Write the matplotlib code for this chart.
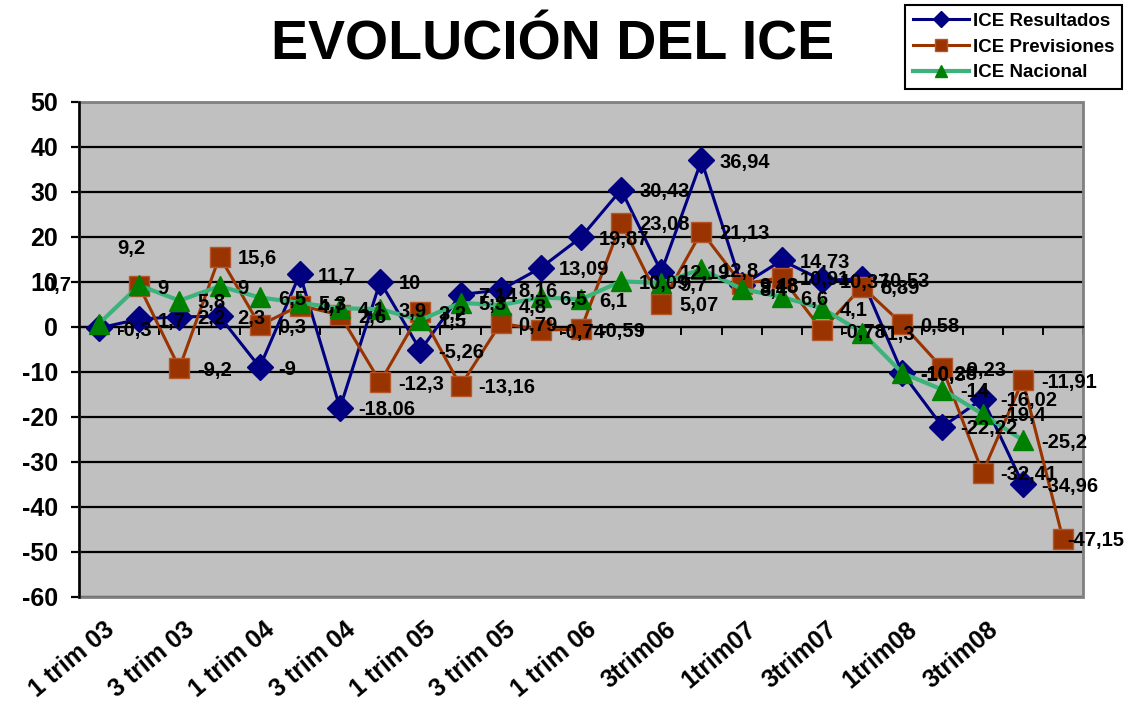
import numpy as np
import matplotlib
matplotlib.use('Agg')
import matplotlib.pyplot as plt
from matplotlib.patches import Rectangle
from matplotlib.lines import Line2D

nan = float('nan')

categories = ['1 trim 03', '2 trim 03', '3 trim 03', '4 trim 03',
              '1 trim 04', '2 trim 04', '3 trim 04', '4 trim 04',
              '1 trim 05', '2 trim 05', '3 trim 05', '4 trim 05',
              '1 trim 06', '2trim06', '3trim06', '4trim06',
              '1trim07', '2trim07', '3trim07', '4trim07',
              '1trim08', '2trim08', '3trim08', '4trim08', '']

resultados = [-0.3, 1.7, 2.2, 2.3, -9, 11.7, -18.06, 10, -5.26, 7.14,
              8.16, 13.09, 19.87, 30.43, 12.19, 36.94, 9.18, 14.73, 10.37,
              10.53, -10.28, -22.22, -16.02, -34.96, nan]

previsiones = [nan, 9, -9.2, 15.6, 0.3, 4.7, 2.6, -12.3, 3.2, -13.16,
               0.79, -0.74, -0.59, 23.08, 5.07, 21.13, 9.48, 10.91, -0.78,
               8.89, 0.58, -9.23, -32.41, -11.91, -47.15]

nacional = [0.7, 9.2, 5.8, 9, 6.5, 5.3, 4.1, 3.9, 1.5, 5.3,
            4.8, 6.5, 6.1, 10.09, 9.7, 12.8, 8.4, 6.6, 4.1, -1.3,
            -10.3, -14, -19.4, -25.2, nan]

series_names = ['ICE Resultados', 'ICE Previsiones', 'ICE Nacional']
y_ticks = [-60, -50, -40, -30, -20, -10, 0, 10, 20, 30, 40, 50]
title = 'EVOLUCIÓN DEL ICE'

plt.rcParams['font.family'] = ['Liberation Sans', 'DejaVu Sans']
plt.rcParams['font.weight'] = 'bold'
plt.rcParams['axes.unicode_minus'] = False

W, H = 1134, 710
fig = plt.figure(figsize=(W / 100, H / 100), dpi=100)
fig.patch.set_facecolor('white')
L, R, T, B = 79, 1083, 101.7, 596.7
ax = fig.add_axes([L / W, 1 - B / H, (R - L) / W, (B - T) / H])
ax.set_facecolor('#C0C0C0')

x = np.arange(len(categories))
ax.set_xlim(-0.5, len(categories) - 0.5)
ax.set_ylim(-60, 50)

styles = [
    dict(color='#000080', marker='D', ms=13, mfc='#000080', mec='#000080', lw=2.2),
    dict(color='#993300', marker='s', ms=14, mfc='#993300', mec='#B5562A', lw=2.2),
    dict(color='#3CB37A', marker='^', ms=15, mfc='#008000', mec='#008000', lw=3.0),
]
data = [resultados, previsiones, nacional]

for vals, st in zip(data, styles):
    ax.plot(x, vals, zorder=3, clip_on=False, **st)

# grid and axes
ax.set_yticks(y_ticks)
ax.yaxis.grid(True, color='black', lw=1.6)
ax.set_axisbelow(True)
ax.tick_params(axis='y', direction='out', length=6, width=1.6, pad=9,
               labelsize=18, colors='black')
for lab in ax.get_yticklabels():
    lab.set_fontweight('bold')

ax.spines['top'].set_visible(False)
ax.spines['right'].set_visible(False)
ax.spines['left'].set_color('black')
ax.spines['left'].set_linewidth(1.8)
ax.spines['bottom'].set_position(('data', 0))
ax.spines['bottom'].set_color('black')
ax.spines['bottom'].set_linewidth(1.6)
ax.set_xticks(np.arange(len(categories) + 1) - 0.5)
ax.set_xticklabels([])
ax.tick_params(axis='x', direction='out', length=6, width=1.4, colors='black')

ax.add_patch(Rectangle((0, 0), 1, 1, transform=ax.transAxes, fill=False,
                       edgecolor='#808080', lw=2, zorder=2.5, clip_on=False))

# category labels (every other)
for i in range(0, len(categories), 2):
    if categories[i]:
        ax.annotate(categories[i], xy=(i, 0), xycoords=('data', 'axes fraction'),
                    xytext=(3, -15), textcoords='offset points',
                    rotation=40, rotation_mode='anchor', ha='right', va='top',
                    fontsize=18, fontweight='bold', annotation_clip=False)

# data labels
def fmt(v):
    return ('%g' % v).replace('.', ',')

label_offsets = {(2, 0): (-40, 29), (2, 1): (-16, 28), (1, 24): (3, 0)}
for si, vals in enumerate(data):
    for i, v in enumerate(vals):
        if np.isnan(v):
            continue
        off = label_offsets.get((si, i), (13, 0))
        ax.annotate(fmt(v), xy=(i, v), xytext=off, textcoords='offset points',
                    ha='left', va='center_baseline', fontsize=14.5, fontweight='bold',
                    zorder=5, annotation_clip=False)

# title
fig.text(553 / W, 1 - 46 / H, title, ha='center', va='center',
         fontsize=40, fontweight='bold')

# legend
handles = [Line2D([], [], color=st['color'], marker=st['marker'], ms=st['ms'] * 0.6,
                  mfc=st['mfc'], mec=st['mec'], lw=st['lw']) for st in styles]
leg = fig.legend(handles, series_names, loc='upper left',
                 bbox_to_anchor=(905 / W, 1 - 5 / H), bbox_transform=fig.transFigure,
                 frameon=True, fancybox=False, edgecolor='black', framealpha=1,
                 fontsize=13.5, handlelength=3.0, handletextpad=0.2,
                 labelspacing=0.45, borderpad=0.42, borderaxespad=0)
leg.get_frame().set_linewidth(1.5)
for t in leg.get_texts():
    t.set_fontweight('bold')

fig.savefig('out.png', dpi=100)
